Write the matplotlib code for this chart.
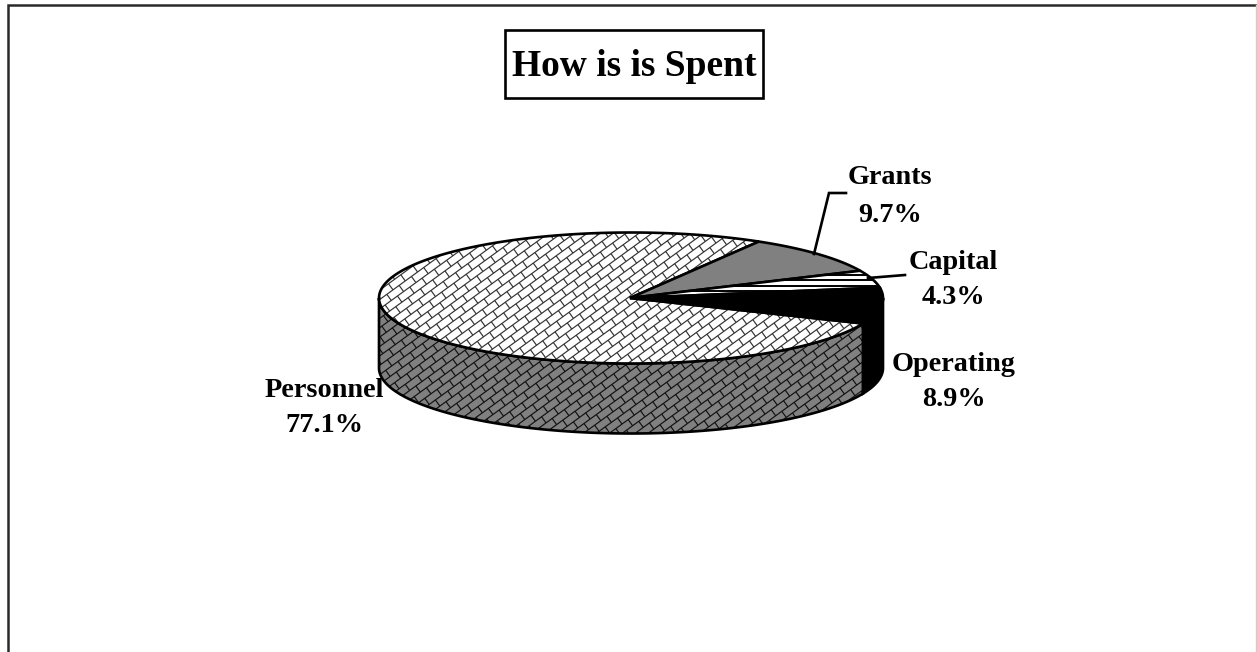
import numpy as np
import matplotlib
matplotlib.use("Agg")
import matplotlib.pyplot as plt
from matplotlib.patches import Polygon, Rectangle
from matplotlib.collections import LineCollection

categories = ["Personnel", "Grants", "Capital", "Operating"]
shares = [77.1, 9.7, 4.3, 8.9]
pct_labels = ["77.1%", "9.7%", "4.3%", "8.9%"]
title_text = "How is is Spent"

W, H = 1257, 652
CX, CY, RX, RY, DEPTH = 631, 298, 252, 65.5, 70
START = 59.5  # degrees where Personnel meets Grants
LW = 1.9
FONT = "Liberation Serif"

fig = plt.figure(figsize=(W / 100, H / 100), dpi=100)
ax = fig.add_axes([0, 0, 1, 1])
ax.set_xlim(0, W)
ax.set_ylim(H, 0)
ax.axis("off")


def pt(deg, dy=0.0):
    t = np.radians(deg)
    return CX + RX * np.cos(t), CY - RY * np.sin(t) + dy


def arc(a, b, dy=0.0):
    t = np.linspace(a, b, 240)
    x, y = pt(t, dy)
    return np.column_stack([x, y])


def bricks(color, lw):
    """Diagonal-brick hatch lines, in pixel units."""
    ang = np.radians(36)
    u = np.array([np.cos(ang), -np.sin(ang)])
    v = np.array([np.sin(ang), np.cos(ang)])
    sp, br = 7.6, 15.2
    segs = []
    c = np.array([CX, CY + DEPTH / 2])
    n = int(420 / sp)
    m = int(420 / br)
    for i in range(-n, n + 1):
        o = c + v * i * sp
        segs.append([o - u * 450, o + u * 450])
        for j in range(-m, m + 1):
            p = o + u * (j + 0.5 * (i % 2)) * br
            segs.append([p, p + v * sp])
    return LineCollection(segs, colors=color, linewidths=lw, zorder=5)


def add_hatched(poly_xy, face, hatch_color, z):
    patch = Polygon(poly_xy, closed=True, facecolor=face, edgecolor="none", zorder=z)
    ax.add_patch(patch)
    lc = bricks(hatch_color, 0.85)
    lc.set_zorder(z + 0.1)
    ax.add_collection(lc)
    lc.set_clip_path(patch)
    outline = Polygon(poly_xy, closed=True, facecolor="none", edgecolor="black",
                      linewidth=LW, zorder=z + 0.2)
    ax.add_patch(outline)


# slice angles from the data: Grants, Capital, Operating run clockwise from START
sweeps = np.array(shares) / sum(shares) * 360
g_hi = START
g_lo = g_hi - sweeps[1]
c_hi = g_lo
c_lo = c_hi - sweeps[2]
o_hi = c_lo
o_lo = o_hi - sweeps[3]
p_lo = START
p_hi = o_lo + 360

# walls
wall_p = np.vstack([arc(180, p_hi), arc(p_hi, 180, DEPTH)])
add_hatched(wall_p, "#808080", "#111111", 1)
wall_o = np.vstack([arc(o_lo, 0), arc(0, o_lo, DEPTH)])
ax.add_patch(Polygon(wall_o, closed=True, facecolor="black", edgecolor="black",
                     linewidth=LW, zorder=2))

# top faces
apex = [[CX - 1, CY]]
add_hatched(np.vstack([apex, arc(p_lo, p_hi)]), "white", "#333333", 3)
ax.add_patch(Polygon(np.vstack([apex, arc(g_lo, g_hi)]), closed=True,
                     facecolor="#808080", edgecolor="black", linewidth=LW, zorder=4))
cap_poly = Polygon(np.vstack([apex, arc(c_lo, c_hi)]), closed=True,
                   facecolor="white", edgecolor="black", linewidth=LW, zorder=4)
ax.add_patch(cap_poly)
ys = np.arange(CY - 40, CY + 10, 5.5)
stripes = LineCollection([[(CX, y), (CX + RX + 5, y)] for y in ys], colors="black",
                         linewidths=1.4, zorder=4.1)
ax.add_collection(stripes)
stripes.set_clip_path(cap_poly)
ax.add_patch(Polygon(np.vstack([apex, arc(o_lo, o_hi)]), closed=True,
                     facecolor="black", edgecolor="black", linewidth=LW, zorder=4))

# leader lines
ax.plot([846, 829, 814], [193, 193, 254], color="black", lw=LW, zorder=6,
        solid_joinstyle="miter")
ax.plot([905, 868], [275, 278], color="black", lw=LW, zorder=6)

# labels: centre x and the two baselines
label_pos = {"Personnel": (324, 397, 432), "Grants": (890, 184, 222),
             "Capital": (953, 269, 304), "Operating": (954, 371, 406)}
for name, pct in zip(categories, pct_labels):
    x, y1, y2 = label_pos[name]
    for y, s in ((y1, name), (y2, pct)):
        ax.text(x, y, s, ha="center", va="baseline", fontsize=20.3, fontweight="bold",
                family=FONT, color="black", zorder=7)

# title box
ax.add_patch(Rectangle((504.5, 29.5), 258.5, 68.5, facecolor="white", edgecolor="black",
                       linewidth=LW, zorder=7))
ax.text(634, 76, title_text, ha="center", va="baseline", fontsize=27, fontweight="bold",
        family=FONT, color="black", zorder=8)

# outer frame (open at the bottom)
ax.plot([7.5, 7.5, 1256], [H + 2, 5, 5], color="#2a2a2a", lw=1.8, zorder=9,
        solid_joinstyle="miter")
ax.plot([1256, 1256], [5, H], color="#cccccc", lw=1, zorder=9)

fig.savefig("out.png", dpi=100, facecolor="white")
